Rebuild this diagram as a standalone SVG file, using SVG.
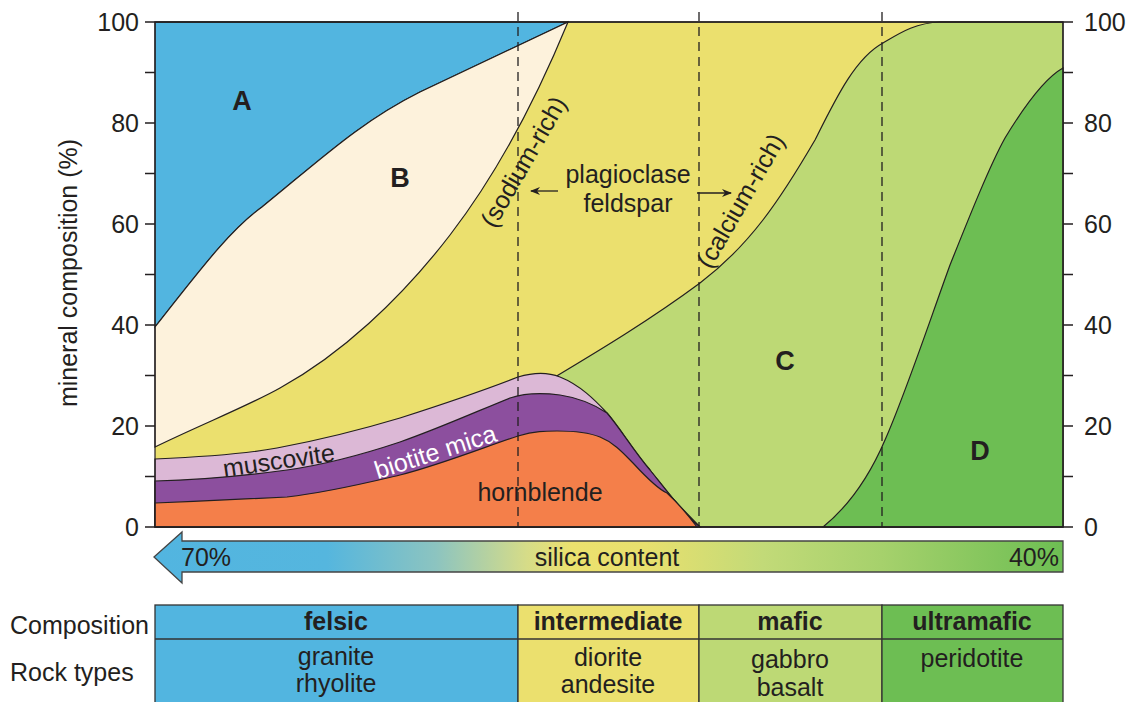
<svg xmlns="http://www.w3.org/2000/svg" width="1133" height="702" viewBox="0 0 1133 702">
<style>
text{font-family:"Liberation Sans",Arial,sans-serif;fill:#231f20;font-size:25px}
.b{font-weight:bold}
.m{text-anchor:middle}
.e{text-anchor:end}
.big{font-size:27px;font-weight:bold;text-anchor:middle}
.ln{stroke:#231f20;stroke-width:1.2;fill:none}
.rg{stroke:#231f20;stroke-width:1.2}
.dash{stroke:#231f20;stroke-width:1.3;stroke-dasharray:9,6;fill:none}
.tk{stroke:#231f20;stroke-width:1.3}
.cell{stroke:#333;stroke-width:1.3}
</style>
<defs>
<linearGradient id="sil" x1="154" y1="0" x2="1063" y2="0" gradientUnits="userSpaceOnUse">
<stop offset="0" stop-color="#52b5e0"/>
<stop offset="0.19" stop-color="#55b6de"/>
<stop offset="0.31" stop-color="#8cc4c0"/>
<stop offset="0.41" stop-color="#d6dc88"/>
<stop offset="0.46" stop-color="#ece16e"/>
<stop offset="0.54" stop-color="#e8e06e"/>
<stop offset="0.67" stop-color="#c2da78"/>
<stop offset="0.8" stop-color="#a6d16c"/>
<stop offset="1" stop-color="#6dbe53"/>
</linearGradient>
<marker id="ah" viewBox="0 0 10 10" refX="9" refY="5" markerWidth="10" markerHeight="10" markerUnits="userSpaceOnUse" orient="auto">
<path d="M0,1 L10,5 L0,9 L3,5 Z" fill="#231f20"/>
</marker>
</defs>

<g id="chart">
<rect id="plagioclase-bg" x="155" y="22" width="908" height="505" fill="#ebe06e"/>
<g id="region-C">
<path class="rg" fill="#bdd975" d="M555,377 C600,350 650,320 700,283 C750,245 780,200 815,140 C835,100 855,58 883,43 C900,33 915,23 940,22 L1063,22 L1063,527 L700,527 Z"/>
</g>
<g id="region-D">
<path class="rg" fill="#6dbe53" d="M823,527 C850,505 870,475 885,440 C905,395 930,320 950,265 C970,215 990,165 1005,138 C1025,105 1045,78 1063,68 L1063,527 Z"/>
</g>
<g id="region-A">
<path class="rg" fill="#52b5e0" d="M155,327 C200,270 230,230 262,207 C320,160 360,122 420,92 C470,68 520,45 568,22 L155,22 Z"/>
</g>
<g id="region-B">
<path class="rg" fill="#fdf2dc" d="M155,327 C200,270 230,230 262,207 C320,160 360,122 420,92 C470,68 520,45 568,22 C540,90 500,170 450,235 C400,300 340,355 280,388 C250,405 200,425 155,447 Z"/>
</g>
<g id="muscovite">
<path class="rg" fill="#dcb8d6" d="M155,459 C200,457 245,454 277,448 C320,440 360,430 400,418 C450,402 490,388 518,377 C535,372 550,373 560,377 C580,385 595,400 607,413 C620,428 633,450 650,470 C670,495 685,515 700,527 L155,527 Z"/>
</g>
<g id="biotite">
<path class="rg" fill="#8c4f9e" d="M155,481 C200,480 250,475 287,470 C330,464 370,452 400,442 C440,428 480,410 510,398 C525,393 545,393 560,395 C580,398 595,405 607,413 C620,428 633,450 650,470 C670,495 685,515 700,527 L155,527 Z"/>
</g>
<g id="hornblende">
<path class="rg" fill="#f47f4a" d="M155,503 C200,501 250,499 287,497 C330,492 370,482 400,475 C440,465 490,445 518,436 C535,431 545,431 557,431 C575,431 590,433 600,437 C615,443 625,455 633,463 C645,476 660,490 667,493 C678,503 688,515 697,527 L155,527 Z"/>
</g>
<g id="axes">
<rect x="155" y="22" width="908" height="505" class="ln"/>
<path class="tk" d="M145,22H1073 M145,527H1073 M145,72.5H155 M145,123H155 M145,173.5H155 M145,224H155 M145,274.5H155 M145,325H155 M145,375.5H155 M145,426H155 M145,476.5H155 M1063,72.5H1073 M1063,123H1073 M1063,173.5H1073 M1063,224H1073 M1063,274.5H1073 M1063,325H1073 M1063,375.5H1073 M1063,426H1073 M1063,476.5H1073"/>
<text class="e" x="139" y="31">100</text>
<text class="e" x="139" y="132">80</text>
<text class="e" x="139" y="233">60</text>
<text class="e" x="139" y="334">40</text>
<text class="e" x="139" y="435">20</text>
<text class="e" x="139" y="536">0</text>
<text x="1084" y="31">100</text>
<text x="1084" y="132">80</text>
<text x="1084" y="233">60</text>
<text x="1084" y="334">40</text>
<text x="1084" y="435">20</text>
<text x="1084" y="536">0</text>
<text class="m" transform="translate(77,273) rotate(-90)">mineral composition (%)</text>
</g>
<g id="dividers">
<path class="dash" d="M518,12V527 M699,12V527 M882,12V527"/>
</g>
<g id="labels">
<text class="big" x="242" y="110">A</text>
<text class="big" x="400" y="187">B</text>
<text class="big" x="785" y="370">C</text>
<text class="big" x="980" y="460">D</text>
<text class="m" x="628" y="183">plagioclase</text>
<text class="m" x="628" y="212">feldspar</text>
<text class="m" transform="translate(531,166) rotate(-60)">(sodium-rich)</text>
<text class="m" transform="translate(748,205) rotate(-60)">(calcium-rich)</text>
<text class="m" transform="translate(280,469) rotate(-8.4)">muscovite</text>
<text class="m" transform="translate(438,460) rotate(-17.7)" style="fill:#fff">biotite mica</text>
<text class="m" x="540" y="501">hornblende</text>
</g>
</g>

<g id="connectors">
<line x1="558" y1="191" x2="531" y2="191" stroke="#231f20" stroke-width="1.3" marker-end="url(#ah)"/>
<line x1="697" y1="193" x2="731" y2="193" stroke="#231f20" stroke-width="1.3" marker-end="url(#ah)"/>
</g>

<g id="silica-bar">
<path d="M154,557 L182,532 L182,541 L1063,541 L1063,572 L182,572 L182,583 Z" fill="url(#sil)" stroke="#444" stroke-width="1.3"/>
<text x="181" y="566">70%</text>
<text class="m" x="607" y="566">silica content</text>
<text class="e" x="1059" y="566">40%</text>
</g>

<g id="table">
<text x="10" y="634">Composition</text>
<text x="10" y="681">Rock types</text>
<g id="col-felsic">
<rect class="cell" x="155" y="605" width="363" height="110" fill="#52b5e0"/>
<text class="b m" x="336" y="630">felsic</text>
<text class="m" x="336" y="665">granite</text>
<text class="m" x="336" y="692">rhyolite</text>
</g>
<g id="col-intermediate">
<rect class="cell" x="518" y="605" width="181" height="110" fill="#ebe06e"/>
<text class="b m" x="608" y="630">intermediate</text>
<text class="m" x="608" y="666">diorite</text>
<text class="m" x="608" y="693">andesite</text>
</g>
<g id="col-mafic">
<rect class="cell" x="699" y="605" width="183" height="110" fill="#bdd975"/>
<text class="b m" x="790" y="630">mafic</text>
<text class="m" x="790" y="668">gabbro</text>
<text class="m" x="790" y="696">basalt</text>
</g>
<g id="col-ultramafic">
<rect class="cell" x="882" y="605" width="181" height="110" fill="#6dbe53"/>
<text class="b m" x="972" y="630">ultramafic</text>
<text class="m" x="972" y="667">peridotite</text>
</g>
<path class="cell" d="M155,639H1063"/>
</g>
</svg>
